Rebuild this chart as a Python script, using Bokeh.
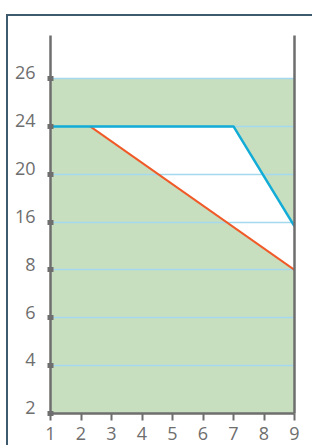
import numpy as np
from bokeh.plotting import figure
from bokeh.models import FixedTicker, LinearAxis, Range1d
from bokeh.embed import file_html
from bokeh.resources import INLINE

# ---- data ----
x_ticks = [1, 2, 3, 4, 5, 6, 7, 8, 9]
y_tick_values = [2, 4, 6, 8, 16, 20, 24, 26]
y_labels = ["2", "4", "6", "8", "16", "20", "24", "26"]

band_x = [1, 9]
band_low = 2
band_high = 26

blue_x = [1, 7, 9]
blue_y = [24, 24, 15.3]

orange_x = [2.3, 9]
orange_y = [24, 8]

# map values onto evenly spaced label positions
y_idx = list(range(len(y_tick_values)))
def ymap(v):
    return float(np.interp(v, y_tick_values, y_idx))

GRAY = "#6e6e6e"
FONT = "Open Sans"
Y_END = 7.9
LABEL_SHIFT = 0.12  # raise labels so their baseline sits near the tick

p = figure(frame_width=244, frame_height=378,
           x_range=Range1d(1, 9), y_range=Range1d(0, Y_END),
           output_backend="svg", toolbar_location=None,
           min_border_left=42, min_border_right=18,
           min_border_top=19, min_border_bottom=32,
           background_fill_color="white", border_fill_color="white",
           outline_line_color=None,
           styles={"border-top": "2px solid #3d5a6e",
                   "border-left": "2px solid #3d5a6e",
                   "margin-top": "14px", "margin-left": "6px"})
p.grid.visible = False
p.extra_y_ranges = {"labels": Range1d(-LABEL_SHIFT, Y_END - LABEL_SHIFT)}

# green band
p.varea(x=band_x, y1=[ymap(band_low)] * 2, y2=[ymap(band_high)] * 2,
        fill_color="#c8dfbf")

# white region between blue and orange lines
white_x = [orange_x[0], blue_x[1], blue_x[2], orange_x[1]]
white_y = [ymap(orange_y[0]), ymap(blue_y[1]), ymap(blue_y[2]), ymap(orange_y[1])]
p.patch(white_x, white_y, fill_color="white", line_color=None)

# grid lines
p.hspan(y=[ymap(v) for v in y_tick_values[1:]], line_color="#a4d8ec", line_width=1.6)

# lines
p.line(orange_x, [ymap(v) for v in orange_y], line_color="#f05a28", line_width=2)
p.line(blue_x, [ymap(v) for v in blue_y], line_color="#12acd6", line_width=2.5)

# axes
xa = p.xaxis[0]
xa.ticker = FixedTicker(ticks=x_ticks)
xa.axis_line_color = GRAY
xa.axis_line_width = 2.5
xa.major_tick_line_color = GRAY
xa.major_tick_line_width = 2
xa.major_tick_in = 0
xa.major_tick_out = 7
xa.minor_tick_line_color = None
xa.major_label_text_font = FONT
xa.major_label_text_font_size = "18px"
xa.major_label_text_color = GRAY
xa.major_label_standoff = 6

tick_pos = [ymap(v) for v in y_tick_values]

# main left axis: line + square tick marks (drawn as minor ticks, no labels)
ya = p.yaxis[0]
ya.ticker = FixedTicker(ticks=[], minor_ticks=tick_pos)
ya.axis_line_color = GRAY
ya.axis_line_width = 2.5
ya.major_tick_line_color = None
ya.minor_tick_line_color = GRAY
ya.minor_tick_line_width = 5
ya.minor_tick_in = 3
ya.minor_tick_out = 3

# label-only axis
la = LinearAxis(y_range_name="labels", ticker=FixedTicker(ticks=tick_pos),
                axis_line_color=None, major_tick_line_color=None,
                minor_tick_line_color=None,
                major_label_overrides={t: s for t, s in zip(tick_pos, y_labels)},
                major_label_text_font=FONT, major_label_text_font_size="18px",
                major_label_text_color=GRAY, major_label_standoff=6)
p.add_layout(la, "left")

ra = LinearAxis(ticker=FixedTicker(ticks=[]), axis_line_color=GRAY, axis_line_width=2.5,
                major_tick_line_color=None, minor_tick_line_color=None)
p.add_layout(ra, "right")

open("out.html", "w").write(file_html(p, INLINE))
